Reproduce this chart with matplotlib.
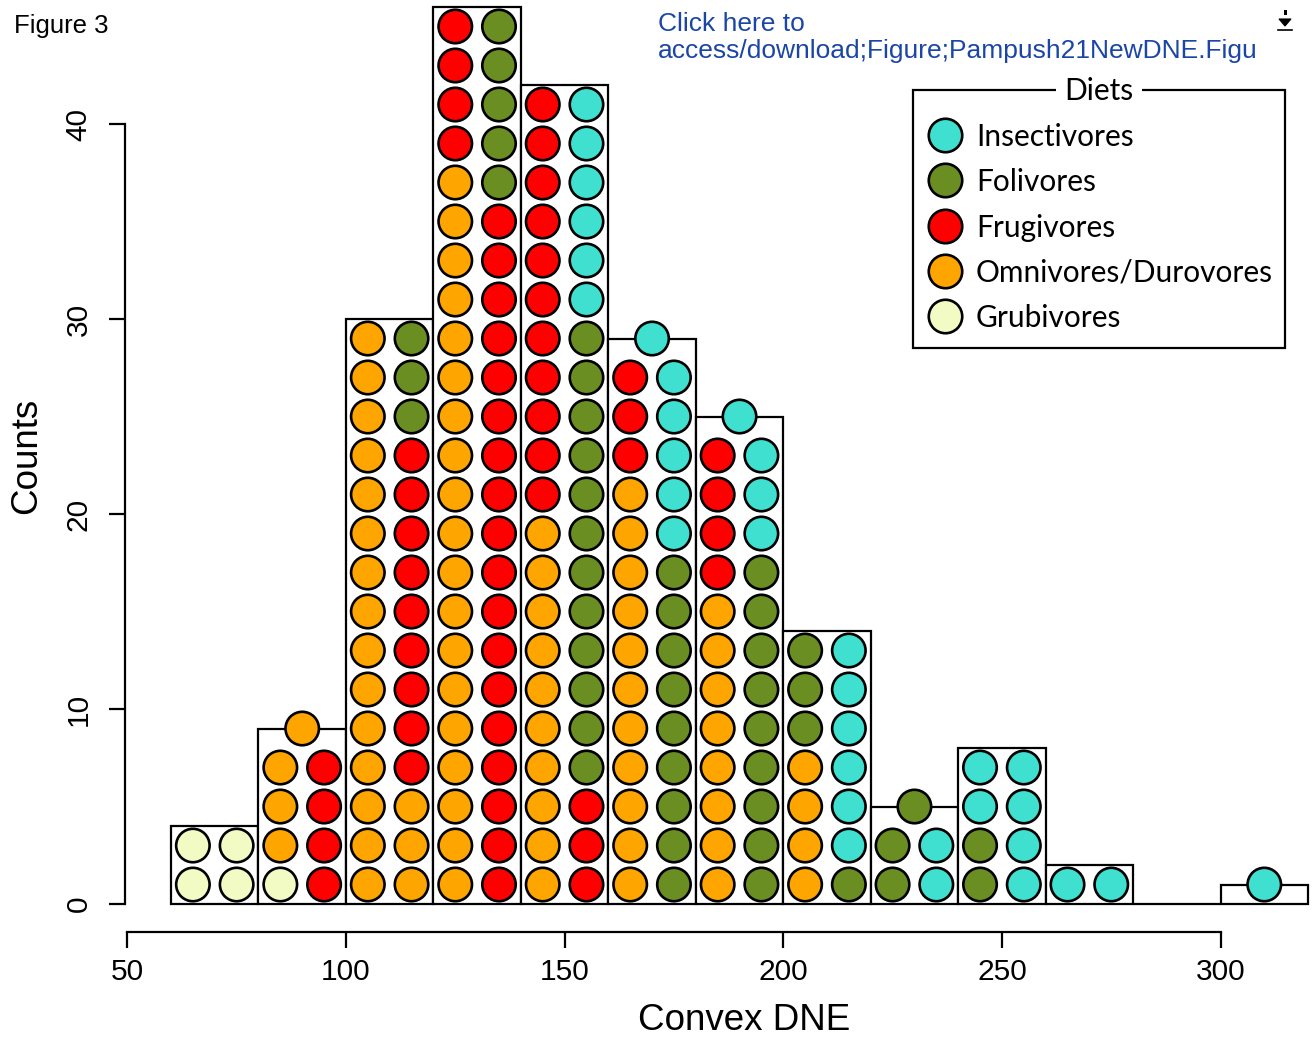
import matplotlib
matplotlib.use("agg")
from matplotlib import pyplot as plt
from matplotlib.patches import Rectangle, Polygon
from matplotlib.lines import Line2D

# histogram bins of Convex DNE (width 20)
binLefts = [60, 80, 100, 120, 140, 160, 180, 200, 220, 240, 260, 280, 300]
# dots per bin, read bottom to top (each dot = 2 specimens, top dot = 1)
# G = Grubivores, O = Omnivores/Durovores, F = Frugivores, L = Folivores, I = Insectivores
leftColumns = ["GG", "GOOO", "O" * 15, "O" * 19 + "F" * 4, "O" * 10 + "F" * 11,
               "O" * 11 + "F" * 3, "O" * 8 + "F" * 4, "O" * 4 + "L" * 3, "LL", "LLII", "I", "", ""]
rightColumns = ["GG", "FFFF", "O" * 3 + "F" * 9 + "L" * 3, "F" * 18 + "L" * 5, "F" * 3 + "L" * 12 + "I" * 6,
                "L" * 9 + "I" * 5, "L" * 9 + "I" * 3, "L" + "I" * 6, "II", "IIII", "I", "", ""]
topDots = ["", "O", "", "", "", "I", "I", "", "L", "", "", "", "I"]

dietCodes = ["I", "L", "F", "O", "G"]
dietNames = ["Insectivores", "Folivores", "Frugivores", "Omnivores/Durovores", "Grubivores"]
dietColors = ["#40E0D0", "#6B8E23", "#FF0000", "#FFA500", "#F3FBC4"]
xTicks = [50, 100, 150, 200, 250, 300]
yTicks = [0, 10, 20, 30, 40]

colorOf = dict(zip(dietCodes, dietColors))
counts = [len(l) + len(r) + len(t) for l, r, t in zip(leftColumns, rightColumns, topDots)]

W, H = 1313, 1041
def fx(px):
    return px / W
def fy(py):
    return 1 - py / H

fig = plt.figure(figsize=(W / 100, H / 100), dpi=100)
ax = fig.add_axes([fx(125.1), fy(932.3), (1329.9 - 125.1) / W, (932.3 + 12.5) / H])
ax.set_xlim(49.5, 325)
ax.set_ylim(-1.45, 47)

ax.bar(binLefts, counts, width=20, align="edge", facecolor="white", edgecolor="black",
       linewidth=1.6, zorder=1, clip_on=False)

dotX, dotY, dotC = [], [], []
for left, lcol, rcol, top in zip(binLefts, leftColumns, rightColumns, topDots):
    for i, code in enumerate(lcol):
        dotX.append(left + 5)
        dotY.append(2 * i + 1)
        dotC.append(colorOf[code])
    for i, code in enumerate(rcol):
        dotX.append(left + 15)
        dotY.append(2 * i + 1)
        dotC.append(colorOf[code])
    if top:
        dotX.append(left + 10)
        dotY.append(len(lcol) * 2 + 1)
        dotC.append(colorOf[top])
ax.scatter(dotX, dotY, s=580, c=dotC, edgecolors="black", linewidths=1.9, zorder=3, clip_on=False)

for side in ["top", "right"]:
    ax.spines[side].set_visible(False)
ax.spines["left"].set_bounds(0, 40)
ax.spines["bottom"].set_bounds(50, 300)
ax.spines["left"].set_linewidth(1.6)
ax.spines["bottom"].set_linewidth(1.6)
ax.set_xticks(xTicks)
ax.set_yticks(yTicks)
ax.tick_params(length=11.5, width=1.6, direction="out")
ax.tick_params(axis="x", pad=7)
ax.tick_params(axis="y", pad=12)
for lbl in ax.get_xticklabels():
    lbl.set_fontfamily("Liberation Sans")
    lbl.set_fontsize(21.5)
for lbl in ax.get_yticklabels():
    lbl.set_fontfamily("Liberation Sans")
    lbl.set_fontsize(21.5)
    lbl.set_rotation(90)
    lbl.set_va("center")

fig.text(fx(744), fy(1021), "Convex DNE", ha="center", va="center", fontsize=26.5, family="Liberation Sans")
fig.text(fx(27), fy(456), "Counts", ha="center", va="center", rotation=90, fontsize=26.5, family="Liberation Sans")

# legend drawn by hand to match the boxed R legend
fig.add_artist(Rectangle((fx(913), fy(348)), (1285 - 913) / W, (348 - 90) / H, transform=fig.transFigure,
                         facecolor="white", edgecolor="black", linewidth=1.6, zorder=5))
fig.text(fx(1099), fy(91), "Diets", ha="center", va="center", fontsize=21.5, family="Lato", zorder=7,
         bbox=dict(facecolor="white", edgecolor="none", pad=6))
for i, (name, color) in enumerate(zip(dietNames, dietColors)):
    yPx = 135 + i * 45.3
    fig.add_artist(Line2D([fx(945)], [fy(yPx)], marker="o", markersize=24.1, markerfacecolor=color,
                          markeredgecolor="black", markeredgewidth=1.9, transform=fig.transFigure, zorder=6))
    fig.text(fx(976), fy(yPx + 2), name, ha="left", va="center", fontsize=21.5, family="Lato", zorder=6)

# page header text
fig.text(fx(14), fy(33), "Figure 3", ha="left", va="baseline", fontsize=18.5, family="Liberation Sans")
blue = "#1b46a6"
fig.text(fx(658), fy(31), "Click here to", ha="left", va="baseline", fontsize=19, family="Liberation Sans", color=blue)
fig.text(fx(658), fy(58), "access/download;Figure;Pampush21NewDNE.Figu", ha="left", va="baseline",
         fontsize=19, family="Liberation Sans", color=blue)
fig.add_artist(Polygon([(fx(1279), fy(19)), (fx(1291), fy(19)), (fx(1285), fy(26))], closed=True,
                       transform=fig.transFigure, facecolor="black", edgecolor="black", linewidth=0.8))
fig.add_artist(Rectangle((fx(1283.5), fy(15)), 3 / W, 5 / H, transform=fig.transFigure,
                         facecolor="black", edgecolor="none"))
fig.add_artist(Line2D([fx(1278), fx(1292)], [fy(30), fy(30)], color="black", linewidth=1.2,
                      transform=fig.transFigure))

fig.savefig("out.png", dpi=100)
plt.close(fig)
